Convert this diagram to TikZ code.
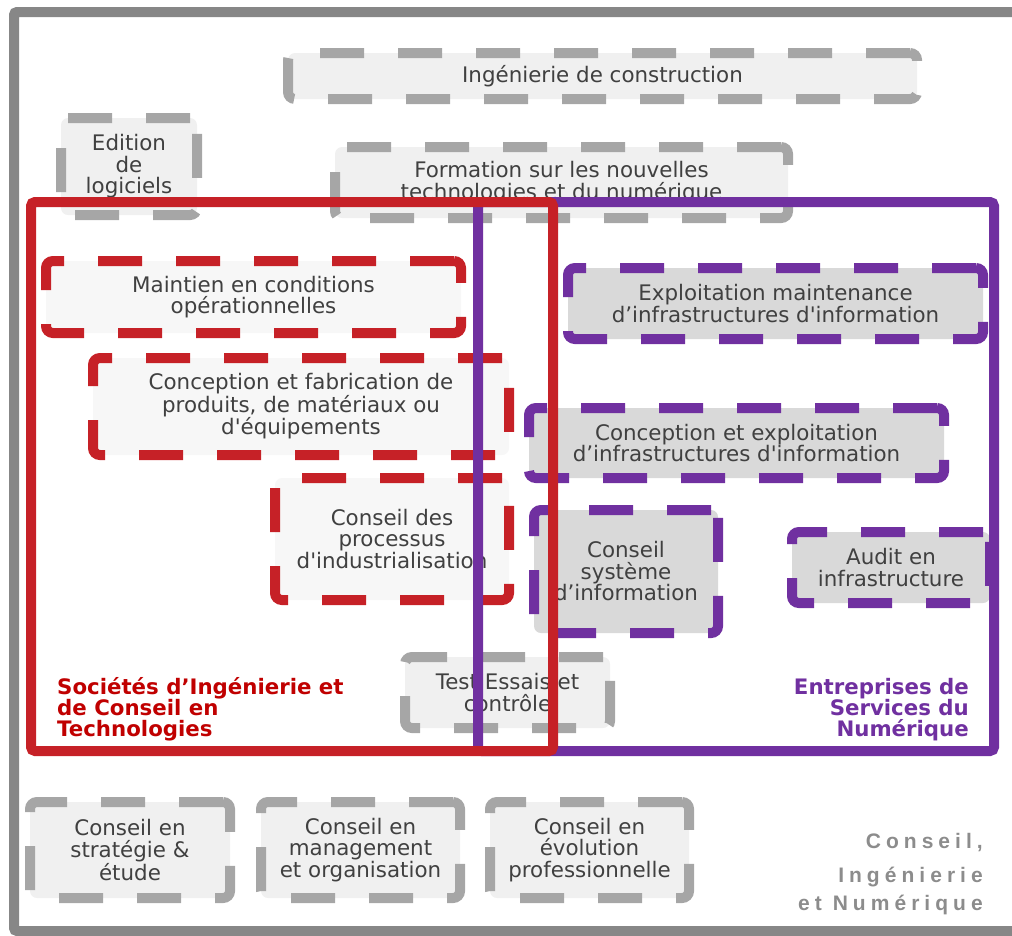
\documentclass[tikz,border=0pt]{standalone}
\usepackage{fontspec}
\newfontfamily\vf{DejaVu Sans}
\newfontfamily\vfsp{Liberation Sans}[LetterSpace=24]
\definecolor{framec}{HTML}{878787}
\definecolor{dgray}{HTML}{A6A6A6}
\definecolor{lgray}{HTML}{F0F0F0}
\definecolor{redc}{HTML}{C62127}
\definecolor{redfill}{HTML}{F7F7F7}
\definecolor{purc}{HTML}{7030A0}
\definecolor{purfill}{HTML}{D9D9D9}
\definecolor{txt}{HTML}{404040}
\definecolor{redtxt}{HTML}{C00000}
\definecolor{sptxt}{HTML}{8C8C8C}
\tikzset{
  base/.style={rectangle, rounded corners=7pt, line width=10pt,
    dash pattern=on 44pt off 34pt, inner sep=0pt, align=center, text=txt,
    font=\vf\fontsize{21.4}{21.5}\selectfont},
  gbox/.style={base, draw=dgray, fill=lgray},
  rbox/.style={base, draw=redc, fill=redfill},
  pbox/.style={base, draw=purc, fill=purfill},
  bigframe/.style={rectangle, rounded corners=4pt, line width=10pt, inner sep=0pt},
  grouplabel/.style={inner sep=0pt, font=\vf\bfseries\fontsize{21.3}{20.8}\selectfont},
}
\begin{document}
\begin{tikzpicture}[x=1pt,y=-1pt]
\useasboundingbox (0,0) rectangle (1012,935);
\clip (0,0) rectangle (1012,935);
% outer frame
\node[bigframe, draw=framec, rounded corners=3pt, minimum width=1020pt, minimum height=919pt] (outer) at (524,471.5) {};
% top gray boxes
\node[gbox, minimum width=629pt, minimum height=46pt] (ing) at (602.5,76) {Ingénierie de construction};
\node[gbox, minimum width=136pt, minimum height=97pt] (edit) at (129,166.5) {Edition\\de\\logiciels};
\node[gbox, minimum width=453pt, minimum height=71pt] (form) at (561.5,182.5) {Formation sur les nouvelles\\technologies et du numérique};
% red boxes
\node[rbox, minimum width=415pt, minimum height=72pt] (mco) at (253.5,297) {Maintien en conditions\\opérationnelles};
\node[rbox, minimum width=416pt, minimum height=97pt] (cfab) at (301,406.5) {Conception et fabrication de\\produits, de matériaux ou\\d'équipements};
\node[rbox, minimum width=234pt, minimum height=122pt] (cpi) at (392,539) {Conseil des\\processus\\d'industrialisation};
% purple boxes
\node[pbox, minimum width=415pt, minimum height=71pt] (expl) at (775.5,303.5) {Exploitation maintenance\\d’infrastructures d'information};
\node[pbox, minimum width=415pt, minimum height=70pt] (cexp) at (736.5,443) {Conception et exploitation\\d’infrastructures d'information};
\node[pbox, minimum width=184pt, minimum height=123pt] (csi) at (626,571.5) {Conseil\\système\\d’information};
\node[pbox, minimum width=198pt, minimum height=71pt] (audit) at (891,567.5) {Audit en\\infrastructure};
% test box
\node[gbox, minimum width=205pt, minimum height=71pt] (test) at (507.5,692.5) {Test Essais et\\contrôle};
% bottom gray boxes
\node[gbox, minimum width=200pt, minimum height=96pt] (strat) at (130,850) {Conseil en\\stratégie \&\\étude};
\node[gbox, minimum width=199pt, minimum height=96pt] (manag) at (360.5,850) {Conseil en\\management\\et organisation};
\node[gbox, minimum width=199pt, minimum height=96pt] (evol) at (589.5,850) {Conseil en\\évolution\\professionnelle};
% big frames
\node[bigframe, draw=purc, minimum width=516pt, minimum height=549pt] (esn) at (736,476.5) {};
\node[bigframe, draw=redc, minimum width=522pt, minimum height=549pt] (sict) at (292,476.5) {};
% group labels (anchor base = baseline of last line)
\node[grouplabel, text=redtxt, align=left, anchor=base west] (sictlab) at (57,736) {Sociétés d’Ingénierie et\\de Conseil en\\Technologies};
\node[grouplabel, text=purc, align=right, anchor=base east] (esnlab) at (969,736) {Entreprises de\\Services du\\Numérique};
\node[inner sep=0pt, text=sptxt, align=right, anchor=base east, font=\vfsp\bfseries\fontsize{21}{34}\selectfont] (cin) at (983,910) {Conseil,\\Ingénierie\\[-6pt]et Numérique};
\end{tikzpicture}
\end{document}
